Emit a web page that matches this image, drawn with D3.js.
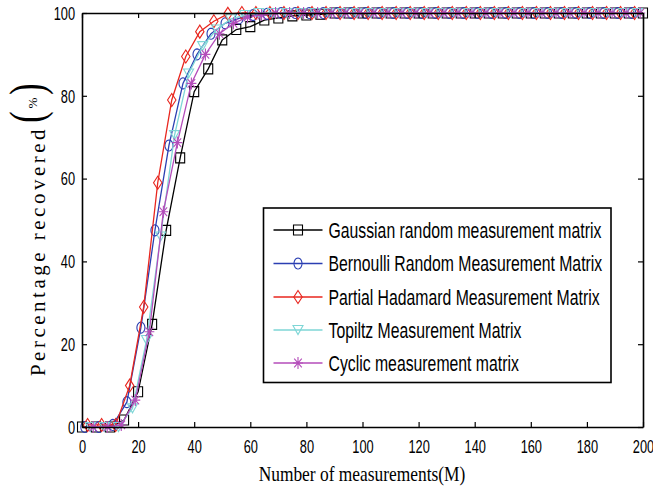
<!DOCTYPE html>
<html><head><meta charset="utf-8">
<script src="https://cdn.jsdelivr.net/npm/d3@7"></script>
<style>body{margin:0;background:#fff}svg{display:block}</style>
</head><body><svg id="c" width="653" height="494"></svg>
<script>
const seriesNames = ["Gaussian random measurement matrix","Bernoulli Random Measurement Matrix","Partial Hadamard Measurement Matrix","Topiltz Measurement Matrix","Cyclic measurement matrix"];
const xTicks = [0,20,40,60,80,100,120,140,160,180,200];
const yTicks = [0,20,40,60,80,100];
const xOffsets = [0,1,2,3,4];
function fill100(a,n){const r=a.slice();while(r.length<n)r.push(100);return r;}
const gaussian  = fill100([0,0,0,1.7,8.5,24.8,47.5,65,81,86.5,93.5,96,96.7,98.3,98.8,99.3,99.5,99.7],41);
const bernoulli = fill100([0,0,0.5,6,24,47.5,68,83,90,95,97.5,98.7,99.5,99.8],40);
const hadamard  = fill100([0.5,0.5,0.5,10,29,59,79,89.5,95.5,98,99.8],40);
const toeplitz  = fill100([0,0,0,4.5,21,46,70.5,85.4,92,96,98.5,99.5],40);
const cyclic    = fill100([0,0,0.5,6.5,23,52,68.7,83,90,95,97.5,99,99.5],40);
const allValues = [gaussian,bernoulli,hadamard,toeplitz,cyclic];
const colors = ["#000000","#2b3fb2","#e8261e","#7ed6d6","#b44dba"];
const shapes = ["square","circle","diamond","triangle","star"];

const svg = d3.select("#c");
const x = d3.scaleLinear().domain([0,200]).range([82,643]);
const y = d3.scaleLinear().domain([0,100]).range([427,13]);

function markerPath(s){
  const p = d3.path();
  if(s==="square"){p.rect(-4.5,-5,9,10);}
  else if(s==="circle"){
    const rx=4,ry=5.5;const n=24;
    for(let i=0;i<=n;i++){const a=i/n*2*Math.PI;const px=rx*Math.cos(a),py=ry*Math.sin(a);if(i===0)p.moveTo(px,py);else p.lineTo(px,py);} p.closePath();}
  else if(s==="diamond"){p.moveTo(0,-6.5);p.lineTo(4.2,0);p.lineTo(0,6.5);p.lineTo(-4.2,0);p.closePath();}
  else if(s==="triangle"){p.moveTo(-5,-4.5);p.lineTo(5,-4.5);p.lineTo(0,4.5);p.closePath();}
  else if(s==="star"){p.moveTo(0,-6);p.lineTo(0,6);p.moveTo(-5,0);p.lineTo(5,0);p.moveTo(-3.8,-4.3);p.lineTo(3.8,4.3);p.moveTo(-3.8,4.3);p.lineTo(3.8,-4.3);}
  return p.toString();
}

const line = d3.line().x(d=>x(d[0])).y(d=>y(d[1]));
allValues.forEach((vals,i)=>{
  const pts = vals.map((v,k)=>[5*k+xOffsets[i],v]).filter(d=>d[0]<=200);
  const g = svg.append("g");
  g.append("path").attr("d",line(pts)).attr("fill","none").attr("stroke",colors[i]).attr("stroke-width",1.3);
  g.selectAll("path.m").data(pts).enter().append("path").attr("class","m")
    .attr("d",markerPath(shapes[i])).attr("transform",d=>`translate(${x(d[0])},${y(d[1])})`)
    .attr("fill","none").attr("stroke",colors[i]).attr("stroke-width",1.1);
});

const font = "'Liberation Sans', Arial, sans-serif";
const xb = svg.append("g").attr("transform","translate(0,427)")
  .call(d3.axisBottom(x).tickValues(xTicks).tickSizeInner(-5).tickSizeOuter(0).tickFormat(d3.format("d")));
xb.selectAll("text").attr("y",0).attr("dy",null).attr("transform","translate(0,26) scale(1,1.4)")
  .style("font-family",font).style("font-size","12.8px").attr("fill","#000");
const yl = svg.append("g").attr("transform","translate(82,0)")
  .call(d3.axisLeft(y).tickValues(yTicks).tickSizeInner(-5).tickSizeOuter(0).tickFormat(d3.format("d")));
yl.selectAll("text").attr("x",0).attr("dy",null).attr("y",0).attr("transform","translate(-7,6.3) scale(1,1.4)")
  .style("font-family",font).style("font-size","12.8px").attr("fill","#000");
svg.append("g").attr("transform","translate(0,13)")
  .call(d3.axisTop(x).tickValues(xTicks).tickSizeInner(-5).tickSizeOuter(0).tickFormat(""));
svg.append("g").attr("transform","translate(643,0)")
  .call(d3.axisRight(y).tickValues(yTicks).tickSizeInner(-5).tickSizeOuter(0).tickFormat(""));
svg.selectAll(".domain").attr("stroke","#000").attr("stroke-width",1.6);
svg.selectAll(".tick line").attr("stroke","#000").attr("stroke-width",1.2);

const lg = svg.append("g");
lg.append("rect").attr("x",263.5).attr("y",208).attr("width",347.5).attr("height",174.5)
  .attr("fill","#fff").attr("stroke","#000").attr("stroke-width",1.6);
const ly = [230,263.5,297,330,363];
seriesNames.forEach((n,i)=>{
  lg.append("line").attr("x1",273.5).attr("x2",322.5).attr("y1",ly[i]).attr("y2",ly[i]).attr("stroke",colors[i]).attr("stroke-width",1.3);
  lg.append("path").attr("d",markerPath(shapes[i])).attr("transform",`translate(298,${ly[i]})`).attr("fill","none").attr("stroke",colors[i]).attr("stroke-width",1.1);
  lg.append("text").attr("transform",`translate(328.5,${ly[i]+7.6}) scale(1,1.35)`)
    .style("font-family",font).style("font-size","15.8px").attr("fill","#000").text(n);
});

const serif = "'Liberation Serif','Times New Roman',serif";
svg.append("text").attr("transform","translate(362,481) scale(1,1.25)").attr("text-anchor","middle")
  .style("font-family",serif).style("font-size","17.4px").attr("fill","#000").text("Number of measurements(M)");
svg.append("text").attr("transform","translate(45,251) rotate(-90)").attr("text-anchor","middle")
  .style("font-family",serif).style("font-size","21px").style("letter-spacing","3.5px").attr("fill","#000").text("Percentage recovered");
svg.append("text").attr("transform","translate(43,117) rotate(-90) scale(1,1.4)").attr("text-anchor","middle")
  .style("font-family",serif).style("font-size","34px").attr("fill","#000").text("(");
svg.append("text").attr("transform","translate(37,103) rotate(-90)").attr("text-anchor","middle")
  .style("font-family",serif).style("font-size","13px").attr("fill","#000").text("%");
svg.append("text").attr("transform","translate(43,89) rotate(-90) scale(1,1.4)").attr("text-anchor","middle")
  .style("font-family",serif).style("font-size","34px").attr("fill","#000").text(")");
</script></body></html>
